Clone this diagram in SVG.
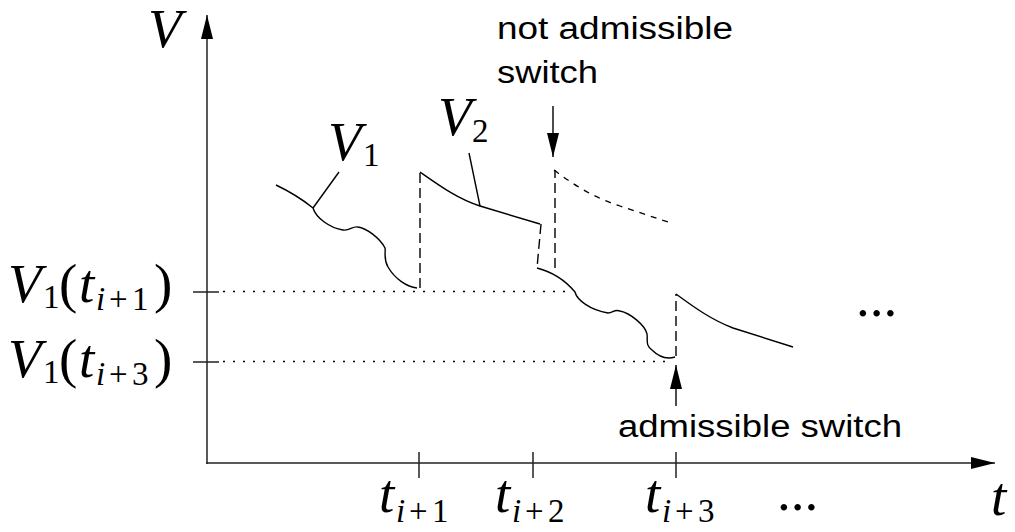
<svg xmlns="http://www.w3.org/2000/svg" width="1015" height="532" viewBox="0 0 1015 532">
<defs>
<marker id="ah" markerWidth="24" markerHeight="12" refX="24" refY="6" orient="auto" markerUnits="userSpaceOnUse"><path d="M0,0 L24,6 L0,12 z" fill="#000"/></marker>
<style>
.ax{stroke:#222;stroke-width:1.5;fill:none}
.ln{stroke:#000;stroke-width:1.4;fill:none}
.dash{stroke:#000;stroke-width:1.4;fill:none;stroke-dasharray:10 5}
.sdash{stroke:#000;stroke-width:1.3;fill:none;stroke-dasharray:6 6}
.dot{stroke:#000;stroke-width:1.4;fill:none;stroke-dasharray:2 8}
.m{font-family:"Liberation Serif",serif;font-style:italic;font-size:55px;fill:#000}
.r{font-family:"Liberation Serif",serif;font-size:55px;fill:#000}
.s{font-family:"Liberation Serif",serif;font-size:33px;fill:#000}
.si{font-family:"Liberation Serif",serif;font-style:italic;font-size:33px;fill:#000}
.sans{font-family:"Liberation Sans",Arial,sans-serif;font-size:31px;fill:#000}
</style>
</defs>
<g id="axes">
<line class="ax" x1="207" y1="464" x2="207" y2="15" marker-end="url(#ah)"/>
<line class="ax" x1="206" y1="463" x2="995" y2="463" marker-end="url(#ah)"/>
<line class="ax" x1="193" y1="292" x2="219" y2="292"/>
<line class="ax" x1="193" y1="362" x2="219" y2="362"/>
<line class="ax" x1="419" y1="452" x2="419" y2="478"/>
<line class="ax" x1="533" y1="452" x2="533" y2="478"/>
<line class="ax" x1="676" y1="452" x2="676" y2="478"/>
</g>
<g id="connectors">
<line class="dot" x1="223" y1="291.5" x2="570" y2="291.5"/>
<line class="dot" x1="223" y1="361.5" x2="668" y2="361.5"/>
<path class="dash" d="M420,288 L420,172"/>
<path class="dash" d="M541,224 L537,268"/>
<path class="dash" d="M555,268 L555,170"/>
<path class="dash" d="M676,356 L676,294"/>
<path class="sdash" d="M554,170 C575,186 595,198 620,206 L668,222"/>
<line class="ln" x1="313" y1="208" x2="339" y2="172"/>
<line class="ln" x1="480" y1="206" x2="469" y2="153"/>
<line class="ln" x1="553" y1="106" x2="553" y2="157" marker-end="url(#ah)"/>
<line class="ln" x1="676" y1="406" x2="676" y2="365" marker-end="url(#ah)"/>
</g>
<g id="curve-v1a"><path class="ln" d="M276,185 Q297,195 313,208 C316,218 330,228 343,230 C350,231 352,226 358,227 C366,228 380,238 385,248 C386,252 383,258 388,267 C395,279 407,287 417,288"/></g>
<g id="curve-v2a"><path class="ln" d="M420,172 C440,186 458,199 480,206 L540,224"/></g>
<g id="curve-v1b"><path class="ln" d="M537,268 Q560,274 575,292 C577,300 590,310 608,313 C613,313 614,309 620,311 C630,313 645,325 647,334 C648,340 645,345 652,350 C658,356 665,360 675,357"/></g>
<g id="curve-v2b"><path class="ln" d="M676,294 C695,308 712,320 733,328 L793,347"/></g>
<g id="labels">
<text class="m" x="148" y="47">V</text>
<text class="m" x="991" y="515">t</text>
<text class="m" x="328" y="160">V</text><text class="s" x="363" y="166">1</text>
<text class="m" x="438" y="135">V</text><text class="s" x="472" y="142">2</text>
<g id="label-v1ti1">
<text class="m" x="8" y="302">V</text><text class="s" x="43" y="308">1</text>
<text class="r" x="59" y="302">(</text><text class="m" x="79" y="302">t</text>
<text class="si" x="96" y="310">i</text><text class="s" x="109" y="310">+</text><text class="s" x="132" y="310">1</text>
<text class="r" x="154" y="302">)</text>
</g>
<g id="label-v1ti3">
<text class="m" x="8" y="377">V</text><text class="s" x="43" y="383">1</text>
<text class="r" x="59" y="377">(</text><text class="m" x="79" y="377">t</text>
<text class="si" x="96" y="385">i</text><text class="s" x="109" y="385">+</text><text class="s" x="132" y="385">3</text>
<text class="r" x="154" y="377">)</text>
</g>
<g id="tick-ti1"><text class="m" x="379" y="512">t</text><text class="si" x="396" y="522">i</text><text class="s" x="409" y="522">+</text><text class="s" x="432" y="522">1</text></g>
<g id="tick-ti2"><text class="m" x="495" y="512">t</text><text class="si" x="512" y="522">i</text><text class="s" x="525" y="522">+</text><text class="s" x="548" y="522">2</text></g>
<g id="tick-ti3"><text class="m" x="645" y="512">t</text><text class="si" x="662" y="522">i</text><text class="s" x="675" y="522">+</text><text class="s" x="698" y="522">3</text></g>
<text class="r" x="856" y="316">...</text>
<text class="r" x="777" y="510">...</text>
<text class="sans" x="497" y="39" textLength="236" lengthAdjust="spacingAndGlyphs">not admissible</text>
<text class="sans" x="497" y="83" textLength="101" lengthAdjust="spacingAndGlyphs">switch</text>
<text class="sans" x="618" y="437" textLength="284" lengthAdjust="spacingAndGlyphs">admissible switch</text>
</g>
</svg>
